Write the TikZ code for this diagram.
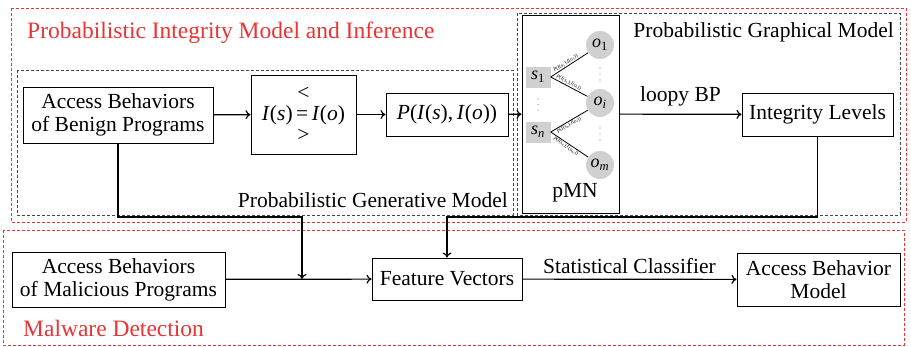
\documentclass[tikz,border=0pt]{standalone}
\usepackage{fontspec}
\setmainfont{Liberation Serif}
\usetikzlibrary{arrows.meta}
\definecolor{myred}{RGB}{232,52,52}
\definecolor{mygray}{RGB}{70,70,70}
\definecolor{nodegray}{RGB}{208,208,208}
\begin{document}
\begin{tikzpicture}[x=1pt,y=-1pt,
  every node/.style={inner sep=0pt, font=\fontsize{21.5}{23}\selectfont},
  box/.style={draw, line width=1pt, align=center},
  conn/.style={line width=1.2pt},
  arr/.style={conn, -{To[length=5pt,width=9pt]}},
  reddash/.style={draw=myred, line width=0.9pt, dash pattern=on 3pt off 2pt},
  graydash/.style={draw=mygray, line width=1pt, dash pattern=on 3pt off 2pt},
  grouptitle/.style={text=myred, font=\fontsize{23.5}{25}\selectfont},
  sq/.style={fill=nodegray, minimum width=25pt, minimum height=21pt, font=\fontsize{18}{18}\selectfont},
  circ/.style={circle, fill=nodegray, minimum size=28pt, font=\fontsize{18}{18}\selectfont},
  elab/.style={font=\fontsize{5.2}{5.2}\selectfont, sloped, inner sep=0.6pt},
  dot/.style={fill=mygray!70, circle, minimum size=1.3pt}
]
\useasboundingbox (0,0) rectangle (911,346);

% group frames
\draw[reddash] (11,8) rectangle (906,222);
\draw[reddash] (3,230) rectangle (904,345);
\draw[graydash] (17,70) rectangle (513,215);
\draw[graydash] (517,13) rectangle (900,215);

% group labels
\node[anchor=west, grouptitle] (t1) at (27,33) {Probabilistic Integrity Model and Inference};
\node[anchor=east] (t2) at (508,200) {Probabilistic Generative Model};
\node[anchor=east] (t3) at (894,32) {Probabilistic Graphical Model};
\node[anchor=west, grouptitle] (t4) at (23,328) {Malware Detection};

% top row
\node[box, minimum width=190pt, minimum height=56pt] (benign) at (118,115) {Access Behaviors\\of Benign Programs};
\node[box, minimum width=105pt, minimum height=79pt, font=\fontsize{21.5}{21}\selectfont] (iso) at (303.5,114.5)
  {\textless\\\textit{I}(\textit{s})\,=\,\textit{I}(\textit{o})\\\textgreater};
\node[box, minimum width=122pt, minimum height=43pt] (prob) at (447,114.5)
  {\textit{P}(\textit{I}(\textit{s}),\,\textit{I}(\textit{o}))};
\node[box, minimum width=97pt, minimum height=198pt] (pmn) at (570.5,114) {};
\node (pmnlab) at (575,193) {pMN};
\node[box, minimum width=151pt, minimum height=43pt] (intlev) at (817.5,114.5) {Integrity Levels};

% pMN graph
\node[sq] (s1) at (538,77) {\textit{s}\textsubscript{1}};
\node[sq] (sn) at (538,132) {\textit{s}\textsubscript{\textit{n}}};
\node[circ] (o1) at (600,45) {\textit{o}\textsubscript{1}};
\node[circ] (oi) at (600,103) {\textit{o}\textsubscript{\textit{i}}};
\node[circ] (om) at (600,165) {\textit{o}\textsubscript{\textit{m}}};
\foreach \yy in {99,104.5,110} \node[dot] at (538,\yy) {};
\foreach \yy in {68,74,80} \node[dot] at (600,\yy) {};
\foreach \yy in {128,134,140} \node[dot] at (600,\yy) {};
\draw[line width=0.8pt] (s1.east) -- node[elab, above, pos=0.45] {\textit{P}(\textit{I}(\textit{s}\textsubscript{1}),\textit{I}(\textit{o}\textsubscript{1}))} (o1);
\draw[line width=0.8pt] (s1.east) -- node[elab, above, pos=0.45] {\textit{P}(\textit{I}(\textit{s}\textsubscript{1}),\textit{I}(\textit{o}\textsubscript{\textit{i}}))} (oi);
\draw[line width=0.8pt] (sn.east) -- node[elab, below, pos=0.45] {\textit{P}(\textit{I}(\textit{s}\textsubscript{\textit{n}}),\textit{I}(\textit{o}\textsubscript{\textit{i}}))} (oi);
\draw[line width=0.8pt] (sn.east) -- node[elab, below, pos=0.45] {\textit{P}(\textit{I}(\textit{s}\textsubscript{\textit{n}}),\textit{I}(\textit{o}\textsubscript{\textit{m}}))} (om);

% bottom row
\node[box, minimum width=213pt, minimum height=55pt] (mal) at (118.5,279.5) {Access Behaviors\\of Malicious Programs};
\node[box, minimum width=150pt, minimum height=42pt] (fv) at (447,279) {Feature Vectors};
\node[box, minimum width=163pt, minimum height=53pt] (abm) at (818.5,279.5) {Access Behavior\\Model};

% connectors
\draw[arr] (benign) -- (iso);
\draw[arr] (iso) -- (prob);
\draw[arr] (prob) -- (pmn);
\draw[arr] (pmn) -- node[above=7pt] (lbp) {loopy BP} (intlev);

\coordinate (bend1) at (302,217);
\coordinate (join1) at (302,279);
\draw[arr] (benign.south) |- (bend1) -- (join1);
\coordinate (bend2) at (447,217);
\draw[arr] (intlev.south) |- (bend2) -- (fv.north);

\draw[arr] (mal) -- (fv);
\draw[arr] (fv) -- node[above=5pt] (sc) {Statistical Classifier} (abm);
\end{tikzpicture}
\end{document}
